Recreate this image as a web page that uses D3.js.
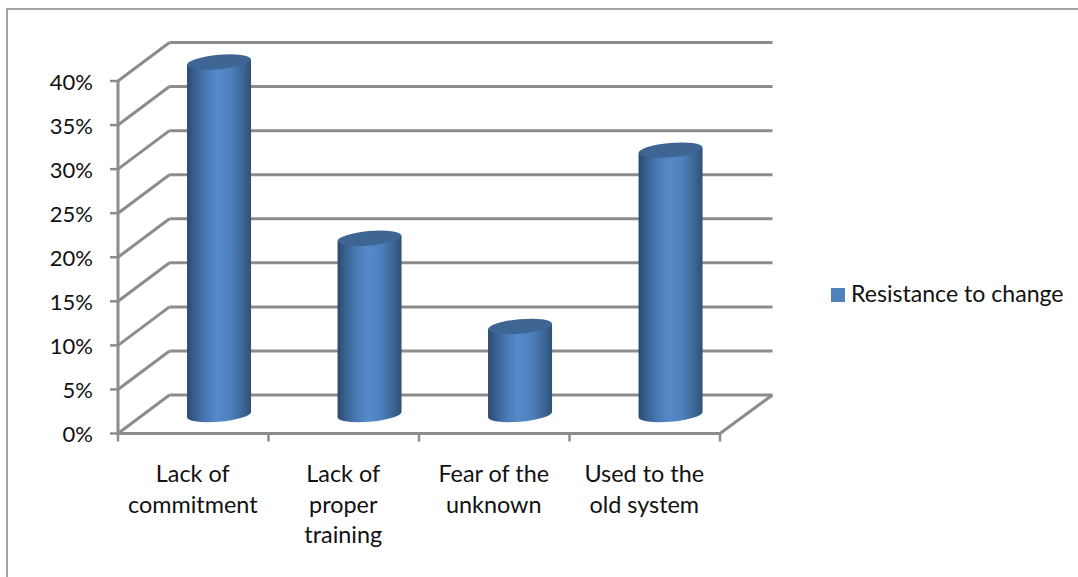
<!DOCTYPE html>
<html><head><meta charset="utf-8">
<script src="https://cdn.jsdelivr.net/npm/d3@7/dist/d3.min.js"></script>
<style>html,body{margin:0;padding:0;background:#fff}svg{display:block}text{font-family:Lato,"Open Sans",sans-serif;fill:#111}</style>
</head><body><div id="c"></div>
<script>
const categories = [["Lack of","commitment"],["Lack of","proper","training"],["Fear of the","unknown"],["Used to the","old system"]];
const values = [40,20,10,30];
const yTicks = [0,5,10,15,20,25,30,35,40];
const seriesName = "Resistance to change";

const W=1078,H=577;
const depthX=51.5, depthY=-38.5;
const svg=d3.select("#c").append("svg").attr("width",W).attr("height",H);
const y=d3.scaleLinear().domain([0,40]).range([433.5,81]);
const x=d3.scaleBand().domain(d3.range(categories.length)).range([118,720]);

const defs=svg.append("defs");
const g=defs.append("linearGradient").attr("id","cyl");
[[0,"#2b4a70"],[0.12,"#386090"],[0.3,"#4a7ab6"],[0.48,"#558aca"],[0.68,"#4d80bd"],[0.86,"#3d6898"],[1,"#2f5277"]]
 .forEach(s=>g.append("stop").attr("offset",s[0]).attr("stop-color",s[1]));

// frame
svg.append("path").attr("d",`M7,${H}V9H${W}`).attr("fill","none").attr("stroke","#a3a3a3").attr("stroke-width",2);

// walls
const gl=svg.append("g").attr("fill","none").attr("stroke","#8c8c8c");
gl.selectAll("path.h").data(yTicks).join("path").attr("class","h")
 .attr("stroke-width",3)
 .attr("d",d=>`M${x.range()[0]+depthX},${y(d)+depthY}H${x.range()[1]+depthX+1}`);
gl.selectAll("path.d").data(yTicks).join("path").attr("class","d").attr("stroke-width",3)
 .attr("d",d=>`M${x.range()[0]},${y(d)}l${depthX},${depthY}`);
gl.append("path").attr("stroke-width",3).attr("d",`M${x.range()[1]},${y(0)}l${depthX+1},${depthY}`);
gl.append("path").attr("stroke-width",3).attr("d",`M${x.range()[0]},${y(40)}V${y(0)}H${x.range()[1]}`);
gl.selectAll("path.t").data(yTicks).join("path").attr("class","t").attr("stroke-width",2.5)
 .attr("d",d=>`M${x.range()[0]-8},${y(d)}H${x.range()[0]}`);
gl.selectAll("path.c").data(d3.range(categories.length+1)).join("path").attr("class","c").attr("stroke-width",2.5)
 .attr("d",i=>{const px=i<categories.length?x(i):x.range()[1];return `M${px},${y(0)}v8`;});

// cylinders
const rx=32, ry=7.2, tilt=-5, tiltPx=2.6;
const cx=i=>x(i)+x.bandwidth()/2+25.8;
const yBase=y(0)-19, k=v=>y(v)-y(0);
const bars=svg.append("g").selectAll("g").data(values).join("g");
bars.append("path").attr("fill","url(#cyl)").attr("d",(v,i)=>{
  const c=cx(i),t=yBase+k(v),b=yBase;
  return `M${c-rx},${t+tiltPx}L${c-rx},${b+tiltPx}A${rx},${ry} ${tilt} 0 0 ${c+rx},${b-tiltPx}L${c+rx},${t-tiltPx}Z`;
});
bars.append("ellipse").attr("fill","#3e6594")
 .attr("cx",(v,i)=>cx(i)).attr("cy",v=>yBase+k(v)).attr("rx",rx).attr("ry",ry)
 .attr("transform",(v,i)=>`rotate(${tilt} ${cx(i)} ${yBase+k(v)})`);

// y labels
svg.append("g").selectAll("text").data(yTicks).join("text")
 .attr("x",93).attr("y",d=>y(d)+8.8).attr("text-anchor","end").attr("font-size",22).text(d=>d+"%");

// category labels
const lab=svg.append("g").selectAll("text").data(categories).join("text")
 .attr("text-anchor","middle").attr("font-size",23.4)
 .attr("transform",(d,i)=>`translate(${x(i)+x.bandwidth()/2},482)`);
lab.selectAll("tspan").data(d=>d).join("tspan").attr("x",-0.5).attr("y",(d,j)=>j*30.6).text(d=>d);

// legend
svg.append("rect").attr("x",831).attr("y",288).attr("width",14).attr("height",14).attr("fill","#4f81bd");
svg.append("text").attr("x",851).attr("y",302).attr("font-size",23.1).text(seriesName);
</script></body></html>
